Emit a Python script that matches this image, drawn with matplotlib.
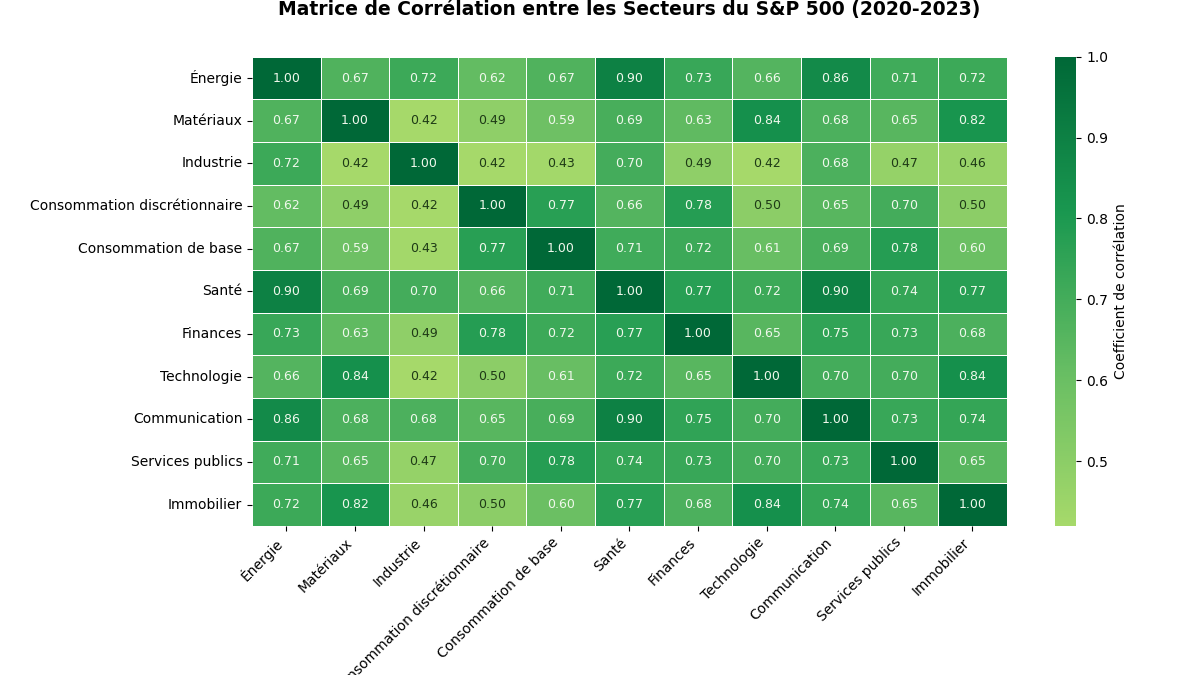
import numpy as np
import pandas as pd
import matplotlib
matplotlib.use("Agg")
import matplotlib.pyplot as plt
import seaborn as sns
from matplotlib.colors import LinearSegmentedColormap

secteurs = ["Énergie", "Matériaux", "Industrie", "Consommation discrétionnaire",
            "Consommation de base", "Santé", "Finances", "Technologie",
            "Communication", "Services publics", "Immobilier"]

energie = [1.00, 0.67, 0.72, 0.62, 0.67, 0.90, 0.73, 0.66, 0.86, 0.71, 0.72]
materiaux = [0.67, 1.00, 0.42, 0.49, 0.59, 0.69, 0.63, 0.84, 0.68, 0.65, 0.82]
industrie = [0.72, 0.42, 1.00, 0.42, 0.43, 0.70, 0.49, 0.42, 0.68, 0.47, 0.46]
conso_disc = [0.62, 0.49, 0.42, 1.00, 0.77, 0.66, 0.78, 0.50, 0.65, 0.70, 0.50]
conso_base = [0.67, 0.59, 0.43, 0.77, 1.00, 0.71, 0.72, 0.61, 0.69, 0.78, 0.60]
sante = [0.90, 0.69, 0.70, 0.66, 0.71, 1.00, 0.77, 0.72, 0.90, 0.74, 0.77]
finances = [0.73, 0.63, 0.49, 0.78, 0.72, 0.77, 1.00, 0.65, 0.75, 0.73, 0.68]
technologie = [0.66, 0.84, 0.42, 0.50, 0.61, 0.72, 0.65, 1.00, 0.70, 0.70, 0.84]
communication = [0.86, 0.68, 0.68, 0.65, 0.69, 0.90, 0.75, 0.70, 1.00, 0.73, 0.74]
services = [0.71, 0.65, 0.47, 0.70, 0.78, 0.74, 0.73, 0.70, 0.73, 1.00, 0.65]
immobilier = [0.72, 0.82, 0.46, 0.50, 0.60, 0.77, 0.68, 0.84, 0.74, 0.65, 1.00]

corr = pd.DataFrame([energie, materiaux, industrie, conso_disc, conso_base, sante,
                     finances, technologie, communication, services, immobilier],
                    index=secteurs, columns=secteurs)

cmap = LinearSegmentedColormap.from_list(
    "verts", ["#a6d96a", "#66bd63", "#1a9850", "#006837"])

fig = plt.figure(figsize=(12, 6.75), dpi=100)
ax = fig.add_axes([0.21, 0.221, 0.629, 0.695])
cax = fig.add_axes([0.879, 0.221, 0.018, 0.695])

sns.heatmap(corr, ax=ax, cbar_ax=cax, cmap=cmap, annot=True, fmt=".2f",
            annot_kws={"size": 9}, linewidths=0.5, linecolor="white",
            cbar_kws={"label": "Coefficient de corrélation"})

# texte clair sur les cases foncées
for t in ax.texts:
    v = float(t.get_text())
    t.set_color("#f0f8ec" if v > 0.55 else "#1e3a16")

ax.set_title("Matrice de Corrélation entre les Secteurs du S&P 500 (2020-2023)",
             fontsize=13.5, fontweight="bold", pad=30)
ax.set_xticklabels(ax.get_xticklabels(), rotation=45, ha="right", fontsize=10)
ax.set_yticklabels(ax.get_yticklabels(), rotation=0, fontsize=10)
cax.tick_params(labelsize=10)
cax.yaxis.label.set_size(10)

fig.savefig("out.png", dpi=100)
